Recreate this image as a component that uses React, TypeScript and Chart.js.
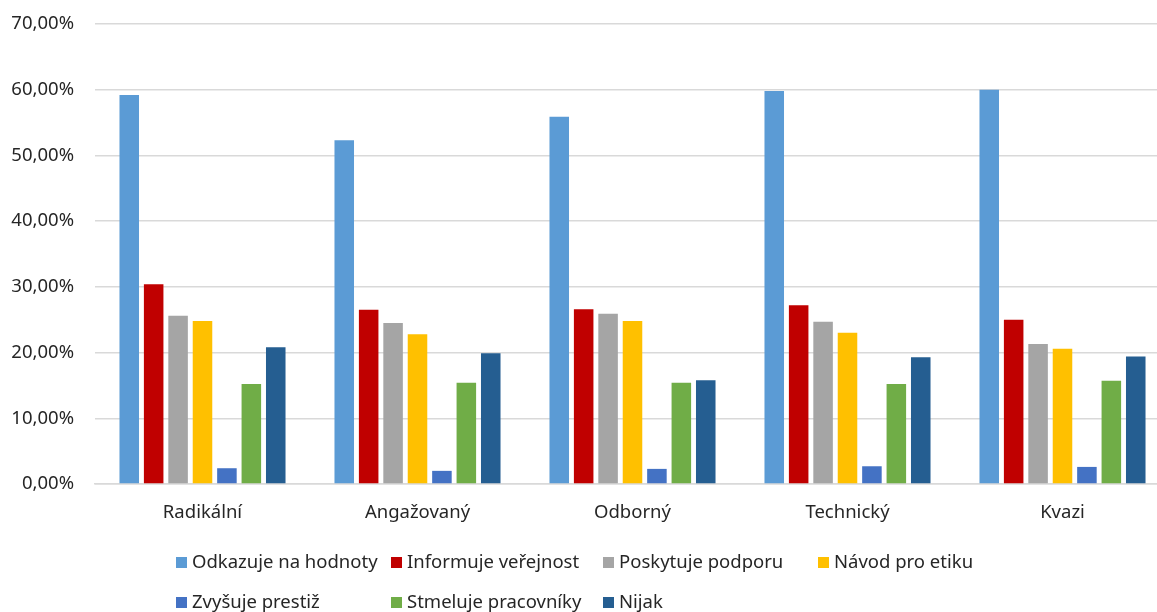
import React, { useEffect, useRef } from "react";
import { Chart, registerables } from "chart.js";

Chart.register(...registerables);

const categories = ["Radikální", "Angažovaný", "Odborný", "Technický", "Kvazi"];
const seriesNames = [
  "Odkazuje na hodnoty",
  "Informuje veřejnost",
  "Poskytuje podporu",
  "Návod pro etiku",
  "Zvyšuje prestiž",
  "Stmeluje pracovníky",
  "Nijak",
];
const odkazuje = [59.2, 52.3, 55.9, 59.8, 60.0];
const informuje = [30.4, 26.5, 26.6, 27.2, 25.0];
const poskytuje = [25.6, 24.5, 25.9, 24.7, 21.3];
const navod = [24.8, 22.8, 24.8, 23.0, 20.6];
const zvysuje = [2.4, 2.0, 2.3, 2.7, 2.6];
const stmeluje = [15.2, 15.4, 15.4, 15.2, 15.7];
const nijak = [20.8, 19.9, 15.8, 19.3, 19.4];
const seriesValues = [odkazuje, informuje, poskytuje, navod, zvysuje, stmeluje, nijak];
const colors = ["#5B9BD5", "#C00000", "#A5A5A5", "#FFC000", "#4472C4", "#70AD47", "#255E91"];

const FONT = "'Noto Sans', sans-serif";
const TEXT_COLOR = "#262626";

const legendPlugin = {
  id: "gridLegend",
  afterDraw(chart: any) {
    const ctx = chart.ctx;
    const colX = [176, 391, 603, 818];
    const rowBase = [568, 608];
    ctx.save();
    ctx.font = `18.5px ${FONT}`;
    ctx.textBaseline = "alphabetic";
    ctx.textAlign = "left";
    chart.data.datasets.forEach((ds: any, i: number) => {
      const col = i % 4;
      const row = Math.floor(i / 4);
      const x = colX[col];
      const base = rowBase[row];
      ctx.fillStyle = ds.backgroundColor;
      ctx.fillRect(x, base - 11, 11, 11);
      ctx.fillStyle = TEXT_COLOR;
      ctx.fillText(ds.label, x + 16, base);
    });
    ctx.restore();
  },
};

export default function App() {
  const ref = useRef<HTMLCanvasElement>(null);
  useEffect(() => {
    if (!ref.current) return;
    const chart = new Chart(ref.current, {
      type: "bar",
      data: {
        labels: categories,
        datasets: seriesNames.map((name, i) => ({
          label: name,
          data: seriesValues[i],
          backgroundColor: colors[i],
          borderWidth: 0,
          categoryPercentage: 0.795,
          barPercentage: 0.8,
        })),
      },
      options: {
        animation: false,
        responsive: false,
        maintainAspectRatio: false,
        layout: { padding: { top: 24, right: 2, bottom: 0, left: 0 } },
        plugins: { legend: { display: false }, tooltip: { enabled: false } },
        scales: {
          x: {
            grid: { display: false, drawTicks: false },
            border: { display: true, color: "#d9d9d9", width: 1.5 },
            ticks: { font: { family: FONT, size: 18.5 }, color: TEXT_COLOR, padding: 18 },
            afterFit: (s: any) => {
              s.height = 128;
            },
          },
          y: {
            min: 0,
            max: 70,
            ticks: {
              stepSize: 10,
              font: { family: FONT, size: 18.5 },
              color: TEXT_COLOR,
              padding: 0,
              callback: (v: any) => Number(v).toFixed(2).replace(".", ",") + "%",
            },
            grid: {
              color: "#d9d9d9",
              lineWidth: 1.5,
              drawTicks: true,
              tickLength: 21,
              tickColor: "rgba(0,0,0,0)",
            },
            border: { display: false },
            afterFit: (s: any) => {
              s.width = 95;
            },
          },
        },
      },
      plugins: [legendPlugin],
    });
    return () => chart.destroy();
  }, []);
  return (
    <div
      style={{
        position: "fixed",
        left: 0,
        top: 0,
        width: 1157,
        height: 612,
        overflow: "hidden",
        background: "#fff",
      }}
    >
      <canvas ref={ref} width={1172} height={612} style={{ display: "block", width: 1172, height: 612 }} />
    </div>
  );
}
